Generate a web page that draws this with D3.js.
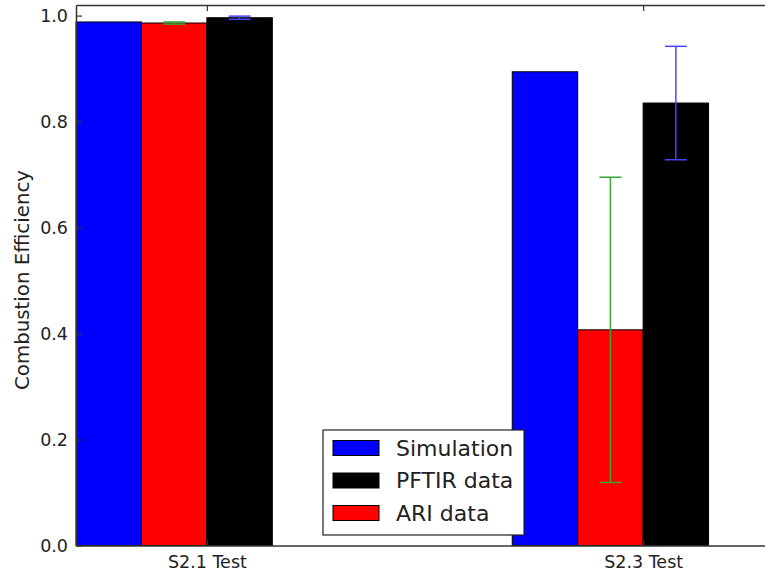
<!DOCTYPE html>
<html>
<head>
<meta charset="utf-8">
<script src="https://cdn.jsdelivr.net/npm/d3@7"></script>
<style>
  html, body { margin: 0; padding: 0; background: #fff; overflow: hidden; }
  svg { display: block; font-family: "DejaVu Sans", sans-serif; }
</style>
</head>
<body>
<div id="chart"></div>
<script>
// Chart data.
const categories = ['S2.1 Test', 'S2.3 Test'];
const simulation = [0.988, 0.894];
const ariData = [0.986, 0.407];
const ariErr = [0.002, 0.288];
const pftirData = [0.996, 0.835];
const pftirErr = [0.003, 0.107];
const yTicks = [0.0, 0.2, 0.4, 0.6, 0.8, 1.0];

// Bar series in drawing order (left to right inside a group).
const series = [
    {name: 'Simulation', values: simulation, errors: null, fill: '#0000ff', errColor: null},
    {name: 'ARI data', values: ariData, errors: ariErr, fill: '#ff0000', errColor: '#3aa63a'},
    {name: 'PFTIR data', values: pftirData, errors: pftirErr, fill: '#000000', errColor: '#4545ff'}
];
// Legend order as in the picture.
const legendOrder = ['Simulation', 'PFTIR data', 'ARI data'];

const width = 765;
const height = 573;
const margin = {top: 5, right: -9, bottom: 27.5, left: 76};
const barWidth = 0.15;
const fontFamily = '"DejaVu Sans", sans-serif';

const svg = d3.select('#chart')
    .append('svg')
        .attr('width', width)
        .attr('height', height);

// Scales: category i occupies [i, i + 3 * barWidth] in data units.
const x = d3.scaleLinear().domain([0, 1.6]).range([margin.left, width - margin.right]);
const y = d3.scaleLinear().domain([0, 1.02]).range([height - margin.bottom, margin.top]);

// Bars.
series.forEach((s, k) => {
    svg.append('g')
        .selectAll('rect')
        .data(s.values)
        .enter()
        .append('rect')
            .attr('x', (d, i) => x(i + k * barWidth))
            .attr('y', d => y(d))
            .attr('width', x(barWidth) - x(0))
            .attr('height', d => y(0) - y(d))
            .attr('fill', s.fill)
            .attr('stroke', '#000')
            .attr('stroke-width', 1);
});

// Error bars.
series.filter(s => s.errors).forEach(s => {
    const k = series.indexOf(s);
    const g = svg.append('g')
        .attr('stroke', s.errColor)
        .attr('stroke-width', 1.5);
    s.values.forEach((v, i) => {
        const cx = x(i + (k + 0.5) * barWidth);
        const lo = y(v - s.errors[i]);
        const hi = y(v + s.errors[i]);
        g.append('line').attr('x1', cx).attr('x2', cx).attr('y1', lo).attr('y2', hi);
        g.append('line').attr('x1', cx - 11).attr('x2', cx + 11).attr('y1', lo).attr('y2', lo);
        g.append('line').attr('x1', cx - 11).attr('x2', cx + 11).attr('y1', hi).attr('y2', hi);
    });
});

// Axes (matplotlib classic style: ticks pointing inward).
const tickPos = categories.map((c, i) => i + 2 * barWidth);

const yAxis = svg.append('g')
    .attr('transform', `translate(${margin.left},0)`)
    .call(d3.axisLeft(y).tickValues(yTicks).tickFormat(d3.format('.1f')).tickSizeInner(-6).tickSizeOuter(0).tickPadding(8));

const xAxis = svg.append('g')
    .attr('transform', `translate(0,${y(0)})`)
    .call(d3.axisBottom(x).tickValues(tickPos).tickFormat((d, i) => categories[i]).tickSizeInner(-6).tickSizeOuter(0).tickPadding(10));

const xTop = svg.append('g')
    .attr('transform', `translate(0,${y(1.02)})`)
    .call(d3.axisTop(x).tickValues(tickPos).tickFormat('').tickSizeInner(-6).tickSizeOuter(0));

[yAxis, xAxis].forEach(a => {
    a.attr('font-family', fontFamily).attr('font-size', 17.5);
    a.selectAll('text').attr('fill', '#222');
});
[yAxis, xAxis, xTop].forEach(a => {
    a.select('.domain').attr('stroke', '#333').attr('stroke-width', 1.5);
    a.selectAll('.tick line').attr('stroke', '#333').attr('stroke-width', 1.2);
});

// Y axis label.
svg.append('text')
    .attr('transform', 'translate(29,280) rotate(-90)')
    .attr('text-anchor', 'middle')
    .style('font-size', '19.8px')
    .attr('fill', '#222')
    .text('Combustion Efficiency');

// Legend.
const legend = svg.append('g').attr('transform', 'translate(323,430)');
legend.append('rect')
    .attr('width', 201)
    .attr('height', 105)
    .attr('fill', '#fff')
    .attr('stroke', '#222')
    .attr('stroke-width', 1.2);
legendOrder.forEach((name, i) => {
    const s = series.find(d => d.name === name);
    const row = legend.append('g').attr('transform', `translate(10,${18 + i * 32.5})`);
    row.append('rect')
        .attr('y', -7.5)
        .attr('width', 46)
        .attr('height', 15)
        .attr('fill', s.fill)
        .attr('stroke', '#000');
    row.append('text')
        .attr('x', 63)
        .attr('y', 7.5)
        .style('font-size', '22px')
        .attr('fill', '#222')
        .text(name);
});
</script>
</body>
</html>
